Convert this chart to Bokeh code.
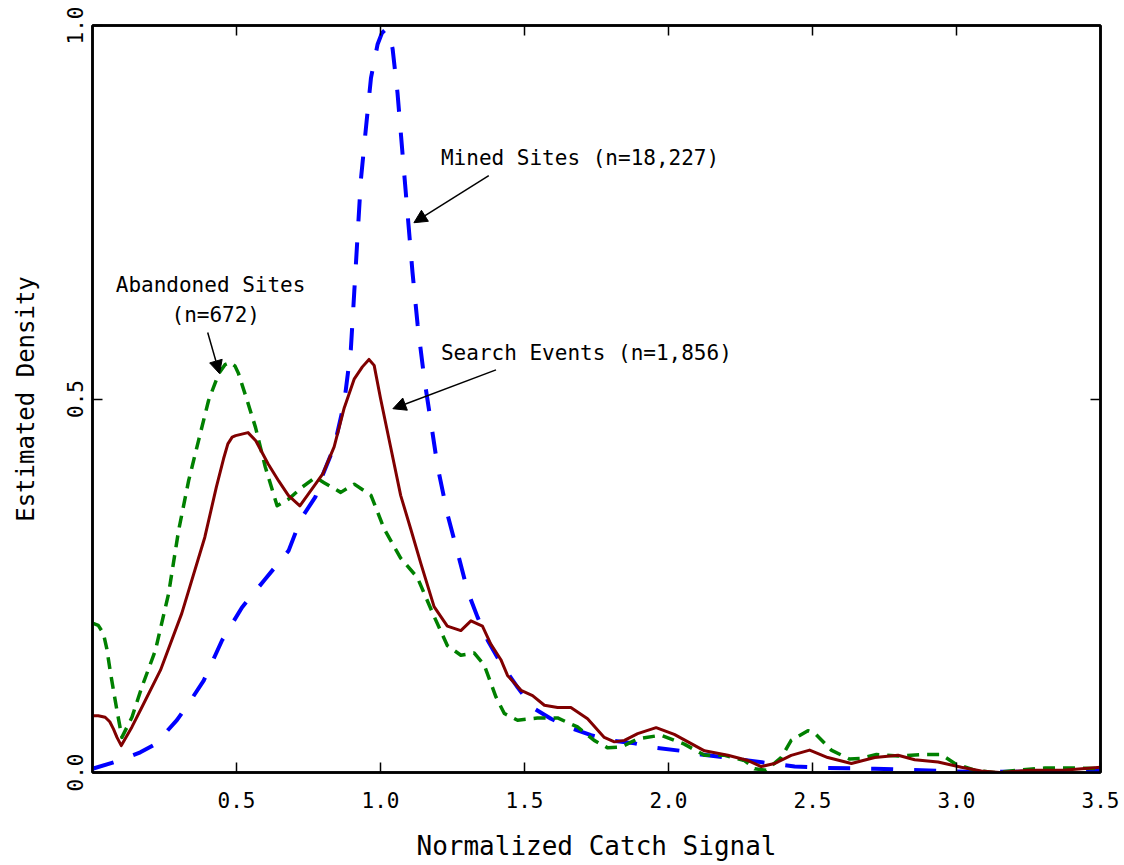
from bokeh.plotting import figure
from bokeh.models import (Range1d, FixedTicker, PrintfTickFormatter, LinearAxis,
                          Label, Arrow, NormalHead)
from bokeh.embed import file_html
from bokeh.resources import INLINE

# ---------------- data ----------------
search_x = [0.0, 0.02, 0.044, 0.06, 0.073, 0.085, 0.10, 0.137, 0.171, 0.236, 0.31, 0.39, 0.43,
            0.455, 0.47, 0.485, 0.497, 0.54, 0.567, 0.61, 0.647, 0.68, 0.72, 0.776, 0.80, 0.839,
            0.874, 0.909, 0.937, 0.96, 0.978, 1.0, 1.035, 1.07, 1.105, 1.14, 1.186, 1.232,
            1.279, 1.314, 1.354, 1.383, 1.418, 1.441, 1.488, 1.528, 1.569, 1.615, 1.661,
            1.719, 1.777, 1.812, 1.847, 1.893, 1.957, 2.02, 2.125, 2.206, 2.276, 2.322,
            2.368, 2.426, 2.49, 2.553, 2.635, 2.716, 2.797, 2.855, 2.936, 3.017, 3.086,
            3.15, 3.25, 3.37, 3.5]
search_y = [0.076, 0.076, 0.074, 0.068, 0.058, 0.047, 0.036, 0.061, 0.087, 0.137, 0.213, 0.315,
            0.382, 0.42, 0.44, 0.449, 0.451, 0.455, 0.444, 0.413, 0.39, 0.371, 0.357, 0.387,
            0.40, 0.436, 0.488, 0.527, 0.543, 0.553, 0.545, 0.501, 0.436, 0.371, 0.326, 0.28,
            0.222, 0.196, 0.19, 0.203, 0.196, 0.172, 0.151, 0.13, 0.11, 0.103, 0.09, 0.087,
            0.087, 0.072, 0.047, 0.041, 0.043, 0.052, 0.06, 0.051, 0.029, 0.023, 0.016,
            0.008, 0.012, 0.023, 0.03, 0.02, 0.012, 0.02, 0.023, 0.017, 0.014, 0.007, 0.002,
            0.0, 0.003, 0.003, 0.007]

aband_x = [0.0, 0.02, 0.038, 0.05, 0.061, 0.075, 0.085, 0.102, 0.137, 0.171, 0.218, 0.264,
           0.299, 0.334, 0.368, 0.403, 0.438, 0.46, 0.479, 0.495, 0.507, 0.537, 0.566, 0.6,
           0.641, 0.681, 0.728, 0.774, 0.804, 0.862, 0.909, 0.967, 1.013, 1.07, 1.128, 1.186,
           1.232, 1.279, 1.325, 1.36, 1.401, 1.43, 1.476, 1.545, 1.615, 1.684, 1.742, 1.789,
           1.835, 1.893, 1.974, 2.055, 2.125, 2.195, 2.264, 2.299, 2.339, 2.391, 2.426, 2.484,
           2.507, 2.565, 2.629, 2.67, 2.722, 2.797, 2.878, 2.947, 2.994, 3.063, 3.13, 3.214,
           3.307, 3.423, 3.5]
aband_y = [0.20, 0.197, 0.186, 0.165, 0.137, 0.105, 0.083, 0.047, 0.074, 0.114, 0.163, 0.239,
           0.324, 0.391, 0.444, 0.498, 0.534, 0.546, 0.549, 0.544, 0.534, 0.498, 0.462, 0.409,
           0.357, 0.366, 0.382, 0.395, 0.388, 0.375, 0.386, 0.371, 0.326, 0.287, 0.261, 0.209,
           0.17, 0.157, 0.16, 0.144, 0.101, 0.079, 0.07, 0.073, 0.073, 0.061, 0.043, 0.033,
           0.034, 0.045, 0.05, 0.038, 0.023, 0.023, 0.016, 0.005, 0.003, 0.02, 0.043, 0.056,
           0.053, 0.03, 0.018, 0.019, 0.024, 0.022, 0.024, 0.024, 0.012, 0.003, 0.0, 0.003,
           0.006, 0.006, 0.005]

mined_x = [0.0, 0.085, 0.166, 0.218, 0.293, 0.34, 0.386, 0.45, 0.519, 0.6, 0.681, 0.723,
           0.774, 0.798, 0.839, 0.874, 0.897, 0.909, 0.92, 0.932, 0.95, 0.967, 0.99, 1.005,
           1.019, 1.03, 1.042, 1.059, 1.077, 1.094, 1.111, 1.129, 1.152, 1.175, 1.198, 1.233,
           1.268, 1.303, 1.337, 1.372, 1.418, 1.476, 1.528, 1.592, 1.65, 1.731, 1.8, 1.882,
           1.957, 2.044, 2.113, 2.206, 2.276, 2.357, 2.438, 2.553, 2.716, 2.878, 3.04, 3.19,
           3.36, 3.5]
mined_y = [0.005, 0.015, 0.027, 0.038, 0.07, 0.096, 0.123, 0.177, 0.221, 0.259, 0.297, 0.339,
           0.369, 0.397, 0.436, 0.495, 0.566, 0.644, 0.716, 0.794, 0.865, 0.93, 0.975, 0.99,
           0.995, 0.987, 0.969, 0.91, 0.826, 0.748, 0.67, 0.599, 0.527, 0.469, 0.41, 0.345,
           0.294, 0.242, 0.208, 0.177, 0.146, 0.114, 0.087, 0.072, 0.061, 0.05, 0.043, 0.039,
           0.033, 0.029, 0.024, 0.02, 0.016, 0.012, 0.008, 0.006, 0.005, 0.003, 0.001, 0.001,
           0.001, 0.003]

x_label_ticks = [0.5, 1.0, 1.5, 2.0, 2.5, 3.0, 3.5]
inner_x_ticks = [0.5, 1.0, 1.5, 2.0, 2.5, 3.0]
y_ticks = [0.0, 0.5, 1.0]
inner_y_ticks = [0.5]

FONT = "DejaVu Sans Mono"
LBL = "21px"

p = figure(width=1124, height=865, x_range=Range1d(0, 3.5), y_range=Range1d(0, 1.0),
           output_backend="svg", toolbar_location=None,
           min_border_left=92, min_border_right=24, min_border_top=25, min_border_bottom=93)
p.xgrid.visible = False
p.ygrid.visible = False
p.outline_line_color = "black"
p.outline_line_width = 2.5
p.background_fill_color = "white"
p.border_fill_color = "white"

# curves
p.line(mined_x, mined_y, line_color="#0000ff", line_width=4, line_dash="22 21",
       line_join="round")
p.line(aband_x, aband_y, line_color="#008000", line_width=3.5, line_dash="12 8",
       line_join="round")
p.line(search_x, search_y, line_color="#800000", line_width=3, line_join="round")

def style_axis(ax):
    ax.axis_line_width = 2.5
    ax.axis_line_color = "black"
    ax.major_tick_in = 10
    ax.major_tick_out = 0
    ax.minor_tick_line_color = None
    ax.major_tick_line_width = 1.5
    ax.major_tick_line_color = "black"
    ax.major_label_text_font = FONT
    ax.major_label_text_color = "black"
    ax.major_label_text_font_size = LBL
    ax.axis_label_text_font = FONT
    ax.axis_label_text_font_style = "normal"
    ax.axis_label_text_color = "black"

# bottom axis
xa = p.xaxis[0]
xa.ticker = FixedTicker(ticks=x_label_ticks)
xa.formatter = PrintfTickFormatter(format="%.1f")
xa.axis_label = "Normalized Catch Signal"
style_axis(xa)
xa.axis_label_text_font_size = "26px"
xa.major_label_standoff = 19
xa.axis_label_standoff = 20

# left axis
ya = p.yaxis[0]
ya.ticker = FixedTicker(ticks=y_ticks)
ya.formatter = PrintfTickFormatter(format="%.1f")
ya.axis_label = "Estimated Density"
style_axis(ya)
ya.axis_label_text_font_size = "24px"
ya.major_label_orientation = "vertical"
ya.major_label_standoff = 10
ya.axis_label_standoff = 24

# top / right axes (inward ticks only, no labels)
top = LinearAxis(ticker=FixedTicker(ticks=inner_x_ticks), major_label_standoff=0,
                 major_label_overrides={t: "" for t in inner_x_ticks})
style_axis(top)
p.add_layout(top, "above")
right = LinearAxis(ticker=FixedTicker(ticks=inner_y_ticks), major_label_standoff=0,
                   major_label_overrides={t: "" for t in inner_y_ticks})
style_axis(right)
p.add_layout(right, "right")

# first x tick label, shifted right as in the original
p.add_layout(Label(x=0, y=0, text="0.0", text_align="left", text_baseline="top",
                   x_offset=1, y_offset=-22, text_font=FONT, text_font_size=LBL,
                   text_color="black"))

# annotations
def note(x, y, txt, align="left"):
    p.add_layout(Label(x=x, y=y, text=txt, text_align=align, text_baseline="middle",
                       text_font=FONT, text_font_size=LBL, text_color="black"))

note(1.21, 0.823, "Mined Sites (n=18,227)")
note(1.21, 0.561, "Search Events (n=1,856)")
note(0.41, 0.653, "Abandoned Sites", align="center")
note(0.428, 0.612, "(n=672)", align="center")

def arrow(x0, y0, x1, y1):
    p.add_layout(Arrow(x_start=x0, y_start=y0, x_end=x1, y_end=y1,
                       line_color="black", line_width=1.5,
                       end=NormalHead(size=13, fill_color="black", line_color="black",
                                      line_width=1)))

arrow(1.376, 0.799, 1.116, 0.736)
arrow(1.401, 0.539, 1.043, 0.487)
arrow(0.40, 0.589, 0.441, 0.534)

open("out.html", "w").write(file_html(p, INLINE))
